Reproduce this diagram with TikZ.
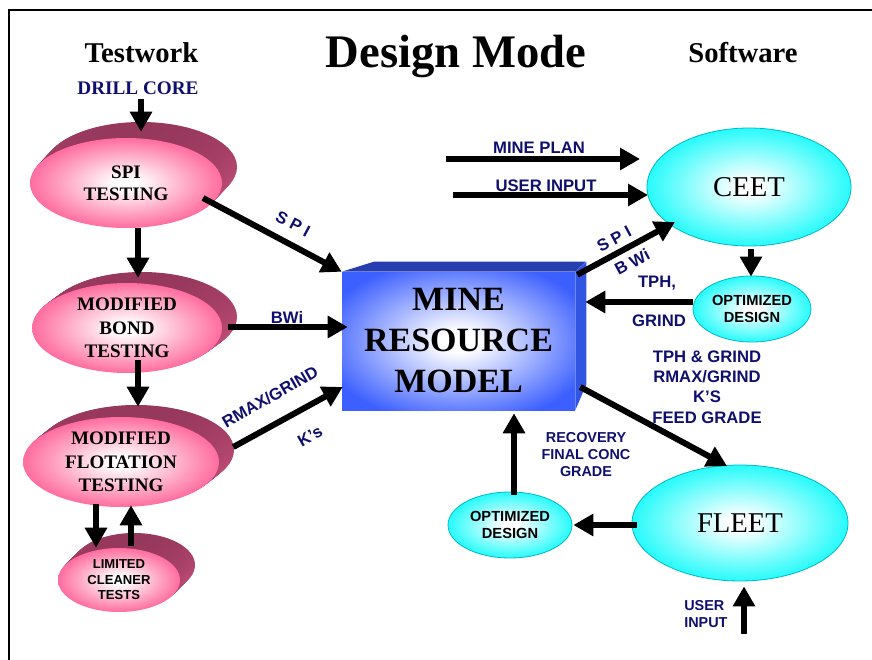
\documentclass[tikz,border=0pt]{standalone}
\usepackage{fontspec}
\setmainfont{Liberation Serif}
\newfontfamily\lsans{Liberation Sans}
\usetikzlibrary{shapes.geometric,arrows.meta,calc}
\definecolor{pinkF}{RGB}{255,95,150}
\definecolor{pinkTop}{RGB}{150,55,92}
\definecolor{pinkSide}{RGB}{205,85,128}
\definecolor{cyanF}{RGB}{0,250,250}
\definecolor{cyanEdge}{RGB}{0,185,195}
\definecolor{blueF}{RGB}{60,95,255}
\definecolor{blueTop}{RGB}{38,62,175}
\definecolor{blueSide}{RGB}{48,85,225}
\definecolor{navyT}{RGB}{15,15,110}
\pgfdeclareradialshading{pinkglow}{\pgfpoint{0bp}{0bp}}{color(0bp)=(white); color(3bp)=(white); color(27bp)=(pinkF); color(100bp)=(pinkF)}
\pgfdeclareradialshading{cyanglow}{\pgfpoint{0bp}{0bp}}{color(0bp)=(white); color(3bp)=(white); color(29bp)=(cyanF); color(100bp)=(cyanF)}
\pgfdeclareradialshading{boxglow}{\pgfpoint{0bp}{0bp}}{color(0bp)=(white); color(4bp)=(white); color(30bp)=(blueF); color(100bp)=(blueF)}
\newcommand\pinkdisk[8]{%
  \foreach \k in {1,0.95,...,0.04}{%
    \path[top color=pinkTop,bottom color=pinkSide] (#2) ++({\k*#5},{\k*(#6)}) ellipse[x radius={#3*0.375pt}, y radius={#4*0.375pt}];
  }%
  \node[pinkfront, minimum width={#3*0.75pt}, minimum height={#4*0.75pt}, font={#7}] (#1) at (#2) {#8};
}
\begin{document}
\begin{tikzpicture}[x=0.75pt,y=-0.75pt,
  arr/.style={line width=4.5pt, -{Triangle[length=15pt,width=16pt]}},
  pinkfront/.style={ellipse, shade, shading=pinkglow, inner sep=0pt, align=center},
  cyannode/.style={ellipse, shade, shading=cyanglow, draw=cyanEdge, line width=0.6pt, inner sep=0pt, align=center},
  title/.style={inner sep=0pt, anchor=base, font=\bfseries\fontsize{21.5}{26}\selectfont},
  lbl/.style={inner sep=0pt, text=navyT, font=\lsans\bfseries\fontsize{12.5}{15.2}\selectfont},
  lbls/.style={inner sep=0pt, text=navyT, font=\lsans\bfseries\fontsize{10.8}{12.75}\selectfont},
  optfont/.style={font=\lsans\bfseries\fontsize{11}{12.75}\selectfont}]
\useasboundingbox (0,0) rectangle (872,660);
\draw[line width=1.8pt] (9,660) -- (9,10) -- (872,10);

% titles
\node[title] (tw) at (141.5,63) {Testwork};
\node[inner sep=0pt, anchor=base, font=\bfseries\fontsize{35}{42}\selectfont] (dm) at (456,68) {Design Mode};
\node[title] (sw) at (743,63) {Software};
\node[inner sep=0pt, anchor=base, text=navyT, font=\bfseries\fontsize{14.4}{17}\selectfont] (dc) at (138,95) {DRILL CORE};

% pink test disks
\pinkdisk{spi}{126,183}{192}{90}{15}{-16}{\bfseries\fontsize{14.3}{16.5}\selectfont}{SPI\\TESTING}
\pinkdisk{bond}{127,328}{190}{90}{15}{-11}{\bfseries\fontsize{14.3}{17.6}\selectfont}{MODIFIED\\BOND\\TESTING}
\pinkdisk{flot}{121,462}{196}{90}{15}{-12}{\bfseries\fontsize{14.3}{17.6}\selectfont}{MODIFIED\\FLOTATION\\TESTING}
\pinkdisk{lim}{119,580}{122}{64}{15}{-15}{\lsans\bfseries\fontsize{9.8}{11.6}\selectfont}{LIMITED\\CLEANER\\TESTS}

% mine resource model box
\node[shade, shading=boxglow, minimum width=174.75pt, minimum height=103.5pt, inner sep=0pt, align=center,
      font=\bfseries\fontsize{25.5}{30.75}\selectfont] (mrm) at (458.5,341) {MINE\\RESOURCE\\MODEL};
\fill[blueTop] (mrm.north west) -- ++(32,-10) -- ++(212,0) -- (mrm.north east) -- cycle;
\fill[blueSide] (mrm.north east) -- ++(11,-10) -- ++(0,123) -- (mrm.south east) -- cycle;

% cyan nodes
\node[cyannode, minimum width=153pt, minimum height=88.5pt, font=\fontsize{21.5}{26}\selectfont] (ceet) at (749,187) {CEET};
\node[cyannode, optfont, minimum width=88.5pt, minimum height=49.5pt] (opt1) at (752,309) {OPTIMIZED\\DESIGN};
\node[cyannode, minimum width=162pt, minimum height=87pt, font=\fontsize{21.5}{26}\selectfont] (fleet) at (740,523) {FLEET};
\node[cyannode, optfont, minimum width=93pt, minimum height=49.5pt] (opt2) at (510,525) {OPTIMIZED\\DESIGN};

% free ends
\coordinate (mp0) at (446,159);
\coordinate (ui0) at (453,195);
\coordinate (ui2) at (744,634);

% arrows
\draw[arr] ($(dc.base)+(3,4)$) -- ($(spi.north)+(15,-6)$);
\draw[arr] ($(spi.south)+(12,0)$) -- ($(bond.north)+(11,-5)$);
\draw[arr] ($(bond.south)+(11,-13)$) -- ($(flot.north)+(17,-10)$);
\draw[arr] ($(flot.south)+(-25,-3)$) -- ($(lim.north)+(-23,0)$);
\draw[arr] ($(lim.north)+(12,-2)$) -- ($(flot.south)+(10,-2)$);
\draw[arr] ($(spi.center)+(77,15)$) -- (mrm.north west);
\draw[arr] ($(bond.east)+(6,-1)$) -- ($(mrm.west)+(6,-14)$);
\draw[arr] ($(flot.east)+(14,-15)$) -- ($(mrm.west)+(1,46)$);
\draw[arr] (mp0) -- ($(ceet.center)+(-109,-28)$);
\draw[arr] (ui0) -- ($(ceet.center)+(-101,8)$);
\draw[arr] ($(mrm.north east)+(2,3)$) -- ($(ceet.center)+(-74,35)$);
\draw[arr] ($(ceet.south)+(2,3)$) -- ($(opt1.north)+(-1,1)$);
\draw[arr] ($(opt1.west)+(0,-7)$) -- ($(mrm.east)+(10,-39)$);
\draw[arr] ($(mrm.east)+(5,46)$) -- ($(fleet.center)+(-13,-57)$);
\draw[arr] ($(fleet.west)+(5,2)$) -- ($(opt2.east)+(1,0)$);
\draw[arr] ($(opt2.north)+(4,3)$) -- ($(mrm.south)+(55.5,3)$);
\draw[arr] (ui2) -- ($(fleet.south)+(4,5)$);

% labels
\node[lbl, rotate=-28] (lspi) at (293,224) {S P I};
\node[lbl, anchor=base] (lbwi) at (287,323) {BWi};
\node[lbl, rotate=30] (lrmax) at (270,397) {RMAX/GRIND};
\node[lbl, rotate=30] (lks) at (310,436) {K’s};
\node[lbl, anchor=base] (lmp) at (539,153) {MINE PLAN};
\node[lbl, anchor=base] (lui) at (546,191) {USER INPUT};
\node[lbl, rotate=28] (lspi2) at (614,239) {S P I};
\node[lbl, rotate=28] (lbwi2) at (632,262) {B Wi};
\node[lbl, anchor=base] (ltph) at (657,287) {TPH,};
\node[lbl, anchor=base] (lgr) at (659,326) {GRIND};
\node[lbl, align=center] (lfeed) at (707,387) {TPH \& GRIND\\RMAX/GRIND\\K’S\\FEED GRADE};
\node[lbls, align=center] (lrec) at (586,454.5) {RECOVERY\\FINAL CONC\\GRADE};
\node[lbls, align=left, anchor=west] (lui2) at (684,614) {USER\\INPUT};
\end{tikzpicture}
\end{document}
